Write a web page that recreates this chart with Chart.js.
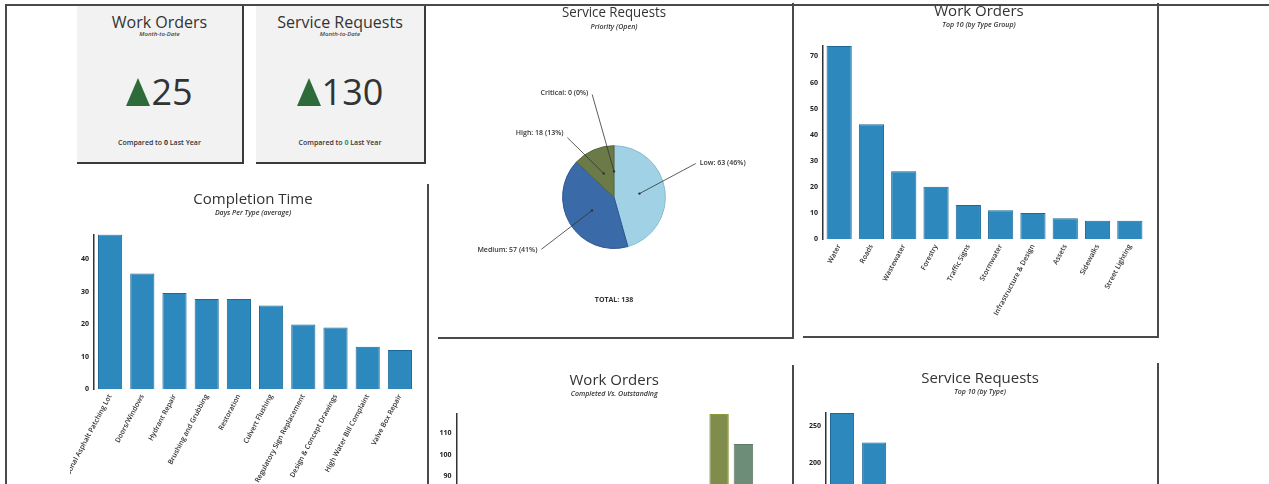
<!DOCTYPE html>
<html lang="en">
<head>
<meta charset="utf-8">
<title>Dashboard</title>
<script src="https://cdn.jsdelivr.net/npm/chart.js@4.4.1/dist/chart.umd.min.js"></script>
<style>
  html, body { margin: 0; padding: 0; }
  body { position: relative; width: 1269px; height: 484px; overflow: hidden; background: #fff; font-family: "Open Sans", sans-serif; color: #333; }
  .rule { position: absolute; background: #4a4a4a; }
  .card { position: absolute; box-sizing: border-box; background: #f2f2f2; border-right: 2px solid #3a3a3a; border-bottom: 2px solid #3a3a3a; text-align: center; }
  .card .title { position: absolute; left: 0; right: 0; top: 6px; font-size: 16px; line-height: 20px; }
  .card .sub { position: absolute; left: 0; right: 0; top: 24px; font-size: 6px; font-style: italic; font-weight: 600; line-height: 8px; color: #444; }
  .card .big { position: absolute; left: 0; right: 0; top: 66px; height: 40px; display: flex; justify-content: center; align-items: center; }
  .card .tri { width: 0; height: 0; border-left: 12.5px solid transparent; border-right: 12.5px solid transparent; border-bottom: 28px solid #2e6b3a; margin-right: 1px; }
  .card .num { font-size: 36px; line-height: 40px; color: #333; }
  .card .cmp { position: absolute; left: 0; right: 0; top: 132px; font-size: 7px; font-weight: 600; line-height: 10px; }
  .card .cmp b { font-weight: 700; }
  canvas { position: absolute; }
</style>
</head>
<body>

<!-- frame rules -->
<div class="rule" style="left:5px;top:4px;width:1264px;height:2px"></div>
<div class="rule" style="left:5px;top:4px;width:2px;height:480px"></div>
<div class="rule" style="left:427px;top:184px;width:2px;height:300px"></div>
<div class="rule" style="left:792px;top:3px;width:2px;height:336px"></div>
<div class="rule" style="left:438px;top:337px;width:356px;height:2px"></div>
<div class="rule" style="left:792px;top:365px;width:2px;height:119px"></div>
<div class="rule" style="left:1157px;top:3px;width:2px;height:335px"></div>
<div class="rule" style="left:803px;top:336px;width:356px;height:2px"></div>
<div class="rule" style="left:1157px;top:363px;width:2px;height:121px"></div>

<div class="card" id="kpi0" style="left:77px;top:6px;width:167px;height:158px"></div>
<div class="card" id="kpi1" style="left:256px;top:6px;width:170px;height:158px"></div>

<canvas id="completion" width="362" height="300" style="left:70px;top:185px"></canvas>
<canvas id="priority" width="356" height="338" style="left:437px;top:0px"></canvas>
<canvas id="woTypes" width="348" height="335" style="left:803px;top:3px"></canvas>
<canvas id="woStatus" width="353" height="340" style="left:437px;top:365px"></canvas>
<canvas id="srTypes" width="351" height="300" style="left:803px;top:365px"></canvas>

<script>
// KPI cards
const kpiTitles = ["Work Orders", "Service Requests"];
const kpiValues = [25, 130];
const kpiLastYear = [0, 0];

// Completion Time - days per type (average)
const completionLabels = ["Seasonal Asphalt Patching Lot", "Doors/Windows", "Hydrant Repair", "Brushing and Grubbing",
  "Restoration", "Culvert Flushing", "Regulatory Sign Replacement", "Design & Concept Drawings",
  "High Water Bill Complaint", "Valve Box Repair"];
const completionDays = [47.7, 35.6, 29.6, 27.8, 27.8, 25.8, 19.9, 19.0, 13.0, 12.0];

// Service Requests - priority (open)
const priorityLabels = ["Low", "Medium", "High", "Critical"];
const priorityCounts = [63, 57, 18, 0];

// Work Orders - top 10 by type group
const woTypeLabels = ["Water", "Roads", "Wastewater", "Forestry", "Traffic Signs", "Stormwater",
  "Infrastructure & Design", "Assets", "Sidewalks", "Street Lighting"];
const woTypeCounts = [74, 44, 26, 20, 13, 11, 10, 8, 7, 7];

// Work Orders - completed vs outstanding (only the last group reaches into the visible crop)
const woStatusLabels = ["", "", "", ""];
const woCompleted = [null, null, null, 119];
const woOutstanding = [null, null, null, 105];

// Service Requests - top 10 by type (only the first two bars are visible)
const srTypeLabels = ["", "", "", "", "", "", "", "", "", ""];
const srTypeCounts = [268, 228, null, null, null, null, null, null, null, null];

// cards
kpiTitles.forEach((t, i) => {
  const card = document.getElementById("kpi" + i);
  const zeroStyle = i === 1 ? ' style="color:#1f8f8a"' : "";
  card.innerHTML =
    '<div class="title">' + t + '</div>' +
    '<div class="sub">Month-to-Date</div>' +
    '<div class="big"><div class="tri"></div><div class="num">' + kpiValues[i] + '</div></div>' +
    '<div class="cmp">Compared to <b' + zeroStyle + '>' + kpiLastYear[i] + '</b> Last Year</div>';
});

const titleFont = { family: "Open Sans", size: 15, weight: "normal", lineHeight: 1.2 };
const subFont = { family: "Open Sans", size: 7, style: "italic", weight: "600", lineHeight: 1.2 };
const tickFont = { family: "Open Sans", size: 7, weight: "bold" };
const labelFont = { family: "Open Sans", size: 7, weight: "600" };
const barBlue = "#2d88bd";
const barEdge = "#1b6796";

// s.padL = left padding of the title box, s.yWidth = y axis box, s.xPadR = right gap of the plot
function makeBar(id, labels, datasets, s) {
  return new Chart(document.getElementById(id), {
    type: "bar",
    data: { labels: labels, datasets: datasets },
    options: {
      responsive: false,
      animation: false,
      devicePixelRatio: 1,
      layout: { padding: { left: s.padL, right: 0, top: 0, bottom: 0 } },
      plugins: {
        legend: { display: false },
        tooltip: { enabled: false },
        title: { display: true, text: s.title, color: "#333", font: titleFont, padding: { top: s.titleTop, bottom: 0 } },
        subtitle: { display: true, text: s.sub, color: "#333", font: subFont, padding: { top: 0, bottom: s.subBottom } },
      },
      scales: {
        x: {
          grid: { display: false, drawTicks: false },
          border: { display: false },
          ticks: { autoSkip: false, minRotation: 62, maxRotation: 62, padding: 4, font: labelFont, color: "#333" },
          afterFit: (sc) => { sc.height = s.xHeight; sc.paddingLeft = 0; sc.paddingRight = s.xPadR; },
        },
        y: {
          min: 0,
          max: s.max,
          grid: { display: false, drawTicks: false },
          border: { display: true, color: "#333", width: 1.5 },
          ticks: { stepSize: s.step, includeBounds: false, padding: 5, font: tickFont, color: "#222" },
          afterFit: (sc) => { sc.width = s.yWidth; },
        },
      },
    },
  });
}

makeBar("completion", completionLabels, [{
  data: completionDays, backgroundColor: barBlue, borderColor: barEdge, borderWidth: 1,
  categoryPercentage: 0.75, barPercentage: 1,
}], { title: "Completion Time", sub: "Days Per Type (average)", padL: 4, yWidth: 20, xPadR: 16,
  titleTop: 6, subBottom: 17, xHeight: 96, max: Math.max(...completionDays), step: 10 });

makeBar("woTypes", woTypeLabels, [{
  data: woTypeCounts, backgroundColor: barBlue, borderColor: barEdge, borderWidth: 1,
  categoryPercentage: 0.78, barPercentage: 1,
}], { title: "Work Orders", sub: "Top 10 (by Type Group)", padL: 4, yWidth: 16, xPadR: 5,
  titleTop: 0, subBottom: 16.6, xHeight: 99, max: Math.max(...woTypeCounts), step: 10 });

makeBar("woStatus", woStatusLabels, [
  { label: "Completed", data: woCompleted, backgroundColor: "#7f8c4c", borderColor: "#8f9a3e", borderWidth: 1,
    categoryPercentage: 0.62, barPercentage: 0.8 },
  { label: "Outstanding", data: woOutstanding, backgroundColor: "#6e8d78", borderColor: "#5d7a66", borderWidth: 1,
    categoryPercentage: 0.62, barPercentage: 0.8 },
], { title: "Work Orders", sub: "Completed Vs. Outstanding", padL: 1.5, yWidth: 18, xPadR: 19.5,
  titleTop: 7, subBottom: 15.6, xHeight: 35.5, max: Math.max(...woCompleted, ...woOutstanding), step: 10 });

makeBar("srTypes", srTypeLabels, [{
  data: srTypeCounts, backgroundColor: barBlue, borderColor: barEdge, borderWidth: 1,
  categoryPercentage: 0.75, barPercentage: 1,
}], { title: "Service Requests", sub: "Top 10 (by Type)", padL: 3, yWidth: 20, xPadR: 7,
  titleTop: 5, subBottom: 16.6, xHeight: 54, max: Math.max(...srTypeCounts.filter((v) => v !== null)), step: 50 });

// leader-line labels for the pie
const pieLabelPlugin = {
  id: "pieLabels",
  afterDatasetsDraw(chart, args, opts) {
    const ctx = chart.ctx;
    const meta = chart.getDatasetMeta(0);
    const values = chart.data.datasets[0].data;
    const total = values.reduce((a, b) => a + b, 0);
    let cx = 0, cy = 0, r = 0;
    ctx.save();
    ctx.font = "600 7px 'Open Sans'";
    ctx.fillStyle = "#333";
    ctx.strokeStyle = "#333";
    ctx.lineWidth = 0.8;
    ctx.textBaseline = "middle";
    meta.data.forEach((arc, i) => {
      const p = arc.getProps(["x", "y", "startAngle", "endAngle", "outerRadius"], true);
      cx = p.x; cy = p.y; r = p.outerRadius;
      const mid = (p.startAngle + p.endAngle) / 2;
      const a2 = mid + opts.turn[i] * Math.PI / 180;
      const x1 = p.x + Math.cos(mid) * r * 0.5;
      const y1 = p.y + Math.sin(mid) * r * 0.5;
      const x2 = p.x + Math.cos(a2) * r * opts.reach[i];
      const y2 = p.y + Math.sin(a2) * r * opts.reach[i];
      ctx.beginPath();
      ctx.moveTo(x1, y1);
      ctx.lineTo(x2, y2);
      ctx.stroke();
      ctx.beginPath();
      ctx.arc(x1, y1, 1.2, 0, Math.PI * 2);
      ctx.fill();
      const pct = Math.round(values[i] / total * 100);
      const text = chart.data.labels[i] + ": " + values[i] + " (" + pct + "%)";
      const right = x2 > p.x;
      ctx.textAlign = right ? "left" : "right";
      ctx.fillText(text, x2 + (right ? 4 : -4), y2 + opts.lift[i]);
    });
    ctx.font = "bold 7px 'Open Sans'";
    ctx.textAlign = "center";
    ctx.fillText("TOTAL: " + total, cx, cy + r * 2);
    ctx.restore();
  },
};

new Chart(document.getElementById("priority"), {
  type: "pie",
  data: {
    labels: priorityLabels,
    datasets: [{
      data: priorityCounts,
      backgroundColor: ["#a0d1e4", "#3b6aa8", "#6b7b48", "#b8463a"],
      borderColor: ["#86bcd2", "#2d5590", "#56653a", "#9a3a30"],
      borderWidth: 1,
    }],
  },
  options: {
    responsive: false,
    animation: false,
    devicePixelRatio: 1,
    layout: { padding: { left: 125, right: 127, top: 0, bottom: 89 } },
    plugins: {
      legend: { display: false },
      tooltip: { enabled: false },
      title: { display: true, text: "Service Requests", color: "#333", font: titleFont, padding: { top: 4, bottom: 0 } },
      subtitle: { display: true, text: "Priority (Open)", color: "#333", font: subFont, padding: { top: 1, bottom: 113.8 } },
      pieLabels: { turn: [-14.5, -4.4, -14.6, -12], reach: [1.72, 1.74, 1.47, 2.04], lift: [-1, 1, -5, -2] },
    },
  },
  plugins: [pieLabelPlugin],
});
</script>
</body>
</html>
